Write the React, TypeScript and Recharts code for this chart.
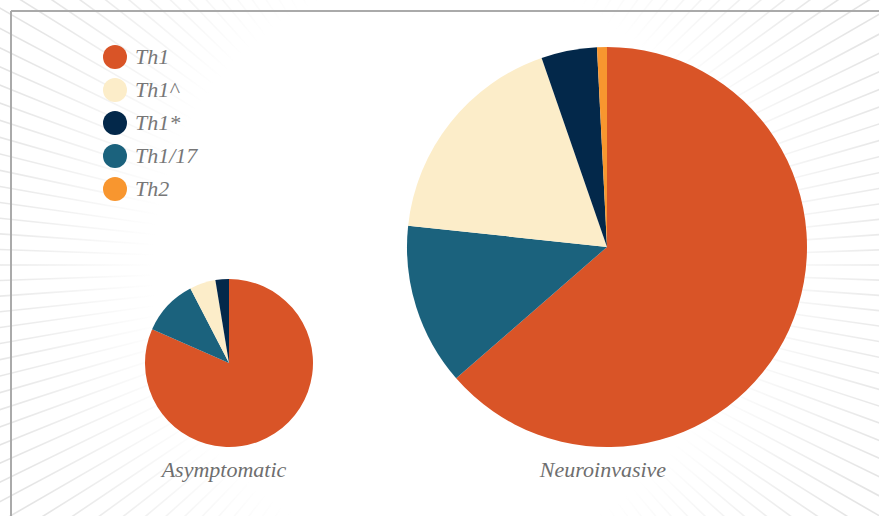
import { PieChart, Pie, Cell, Legend } from "recharts"

const SUBSETS = ["Th1", "Th1/17", "Th1^", "Th1*", "Th2"]
const LEGEND_ORDER = ["Th1", "Th1^", "Th1*", "Th1/17", "Th2"]
const ASYMPTOMATIC = [81.6, 10.8, 5.0, 2.6, 0]
const NEUROINVASIVE = [63.6, 13.1, 18.0, 4.5, 0.8]
const GROUPS = ["Asymptomatic", "Neuroinvasive"]

const COLORS: Record<string, string> = {
  "Th1": "#d95427",
  "Th1^": "#fcedc9",
  "Th1*": "#03284a",
  "Th1/17": "#1b627d",
  "Th2": "#f8962f",
}

const W = 879
const H = 516
const FONT = "Liberation Serif"

const toRows = (vals: number[]) => SUBSETS.map((name, i) => ({ name, value: vals[i] }))

// background sunburst rays
const RAY_CX = 445
const RAY_CY = 265
const RAYS = Array.from({ length: 180 }, (_, i) => (i * 2 * Math.PI) / 180)

function Rays() {
  return (
    <svg width={W} height={H} style={{ position: "absolute", left: 0, top: 0 }}>
      <defs>
        <radialGradient id="rayFade" gradientUnits="userSpaceOnUse" cx={RAY_CX} cy={RAY_CY} r={520}>
          <stop offset="0.56" stopColor="#e4e4e4" stopOpacity={0} />
          <stop offset="0.92" stopColor="#e4e4e4" stopOpacity={1} />
          <stop offset="1" stopColor="#e4e4e4" stopOpacity={1} />
        </radialGradient>
      </defs>
      {RAYS.map((a, i) => (
        <line
          key={i}
          x1={RAY_CX}
          y1={RAY_CY}
          x2={RAY_CX + Math.cos(a) * 700}
          y2={RAY_CY + Math.sin(a) * 700}
          stroke="url(#rayFade)"
          strokeWidth={1.6}
        />
      ))}
      <line x1={11} y1={11} x2={W} y2={11} stroke="#aaaaaa" strokeWidth={2} />
      <line x1={11} y1={11} x2={11} y2={H} stroke="#aaaaaa" strokeWidth={2} />
    </svg>
  )
}

function LegendBox() {
  return (
    <div style={{ fontFamily: FONT, fontStyle: "italic", fontSize: 22, color: "#777" }}>
      {LEGEND_ORDER.map((name) => (
        <div key={name} style={{ display: "flex", alignItems: "center", height: 33 }}>
          <span
            style={{
              width: 24,
              height: 24,
              borderRadius: 12,
              background: COLORS[name],
              display: "inline-block",
              marginRight: 8,
            }}
          />
          <span>{name}</span>
        </div>
      ))}
    </div>
  )
}

export default function App() {
  return (
    <div style={{ position: "absolute", left: 0, top: 0, width: W, height: H, background: "#fff" }}>
      <Rays />
      <div style={{ position: "absolute", left: 0, top: 0 }}>
        <PieChart width={W} height={H} margin={{ top: 0, right: 0, bottom: 0, left: 0 }}>
          <Legend
            content={() => <LegendBox />}
            wrapperStyle={{ position: "absolute", left: 103, top: 40, width: 150 }}
          />
          <Pie
            data={toRows(ASYMPTOMATIC)}
            dataKey="value"
            nameKey="name"
            cx={229}
            cy={363}
            outerRadius={84}
            startAngle={90}
            endAngle={-270}
            stroke="none"
            isAnimationActive={false}
          >
            {SUBSETS.map((s) => (
              <Cell key={s} fill={COLORS[s]} />
            ))}
          </Pie>
          <Pie
            data={toRows(NEUROINVASIVE)}
            dataKey="value"
            nameKey="name"
            cx={607}
            cy={247}
            outerRadius={200}
            startAngle={90}
            endAngle={-270}
            stroke="none"
            isAnimationActive={false}
          >
            {SUBSETS.map((s) => (
              <Cell key={s} fill={COLORS[s]} />
            ))}
          </Pie>
        </PieChart>
      </div>
      <svg width={W} height={H} style={{ position: "absolute", left: 0, top: 0, pointerEvents: "none" }}>
        {GROUPS.map((g, i) => (
          <text
            key={g}
            x={i === 0 ? 224 : 603}
            y={477}
            textAnchor="middle"
            fontFamily={FONT}
            fontStyle="italic"
            fontSize={22}
            fill="#6e6e6e"
          >
            {g}
          </text>
        ))}
      </svg>
    </div>
  )
}
